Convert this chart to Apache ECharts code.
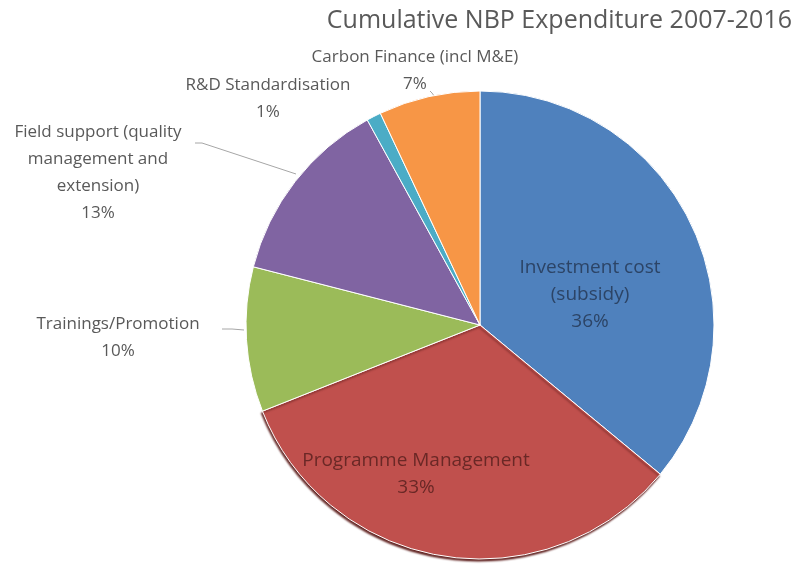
<!DOCTYPE html>
<html>
<head>
<meta charset="utf-8">
<script src="https://cdn.jsdelivr.net/npm/echarts@6/dist/echarts.min.js"></script>
<style>
  html, body { margin: 0; padding: 0; background: #fff; }
  #chart { width: 800px; height: 568px; }
</style>
</head>
<body>
<div id="chart"></div>
<script>
// data (percent of cumulative expenditure)
const categories = [
  'Investment cost\n(subsidy)',
  'Programme Management',
  'Trainings/Promotion',
  'Field support (quality\nmanagement and\nextension)',
  'R&D Standardisation',
  'Carbon Finance (incl M&E)'
];
const values = [36, 33, 10, 13, 1, 7];
const colors = ['#4F81BD', '#C0504D', '#9BBB59', '#8064A2', '#4BACC6', '#F79646'];

// where the labels sit (text centre) and their leader lines
const labelSpots = {
  0: { x: 590, y: 295, line: null },
  1: { x: 416, y: 474, line: null },
  2: { x: 118, y: 338, line: [[244, 330], [232, 329], [222, 329]] },
  3: { x: 98, y: 173, line: [[296, 174], [202, 143], [195, 143]] },
  4: { x: 268, y: 99, line: null },
  5: { x: 415, y: 71, line: [[437, 100], [432, 93], [430, 91]] }
};

const chart = echarts.init(document.getElementById('chart'));

const seriesData = categories.map((name, i) => {
  const item = { name: name, value: values[i], itemStyle: { color: colors[i] } };
  if (i < 2) {
    item.label = {
      position: 'inside',
      color: i === 0 ? '#2c4466' : '#6a2826',
      fontSize: 19,
      lineHeight: 27
    };
    item.labelLine = { show: false };
  }
  if (i === 1) {
    item.itemStyle.shadowColor = '#5e1f1d';
    item.itemStyle.shadowOffsetY = 2;
    item.itemStyle.shadowOffsetX = -1;
    item.itemStyle.shadowBlur = 2;
  }
  if (i === 4) item.labelLine = { show: false };
  return item;
});

chart.setOption({
  animation: false,
  title: {
    text: 'Cumulative NBP Expenditure 2007-2016',
    right: 3,
    top: 3,
    textStyle: {
      fontFamily: 'Open Sans',
      fontSize: 25,
      fontWeight: 'normal',
      color: '#595959'
    }
  },
  series: [{
    type: 'pie',
    center: [480, 325],
    radius: 234,
    startAngle: 90,
    clockwise: true,
    data: seriesData,
    itemStyle: { borderColor: '#ffffff', borderWidth: 1 },
    label: {
      show: true,
      position: 'outside',
      formatter: '{b}\n{d}%',
      fontFamily: 'Open Sans',
      fontSize: 17,
      lineHeight: 27,
      color: '#595959',
      align: 'center'
    },
    labelLine: {
      show: true,
      lineStyle: { color: '#a6a6a6', width: 1 }
    },
    labelLayout: function (p) {
      const spot = labelSpots[p.dataIndex];
      if (!spot) return {};
      const out = {
        x: spot.x,
        y: spot.y,
        align: 'center',
        verticalAlign: 'middle'
      };
      if (spot.line) out.labelLinePoints = spot.line;
      return out;
    }
  }]
});

window.addEventListener('resize', () => chart.resize());
</script>
</body>
</html>
